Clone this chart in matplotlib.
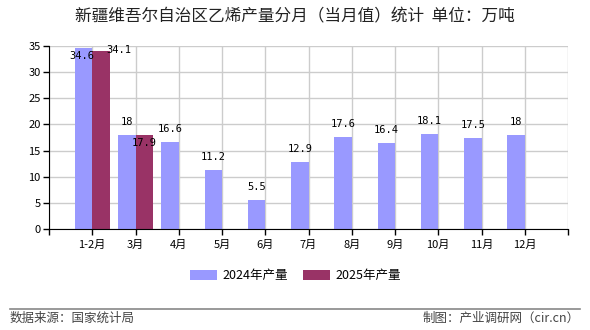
import matplotlib.pyplot as plt
import numpy as np

plt.rcParams['font.family'] = ['Noto Sans CJK SC', 'DejaVu Sans']

# Datos
meses = ['1-2月', '3月', '4月', '5月', '6月', '7月', '8月', '9月', '10月', '11月', '12月']
prod_2024 = [34.6, 18, 16.6, 11.2, 5.5, 12.9, 17.6, 16.4, 18.1, 17.5, 18]
prod_2025 = [34.1, 17.9]

color_2024 = '#9999FF'
color_2025 = '#993366'

fig = plt.figure(figsize=(5.9, 3.3), dpi=100)
ax = fig.add_axes([49 / 590, 101 / 330, 519 / 590, 183 / 330])

x = np.arange(1, len(meses) + 1)
w = 0.4
b24 = ax.bar(x - w / 2, prod_2024, w, color=color_2024, label='2024年产量', zorder=2)
x25 = x[:len(prod_2025)]
b25 = ax.bar(x25 + w / 2, prod_2025, w, color=color_2025, label='2025年产量', zorder=2)

# Etiquetas de valores (desplazamientos en pixeles)
off24 = {0: (-2, -8)}
off25 = {0: (18, 1), 1: (0, -8)}
for i, v in enumerate(prod_2024):
    dx, dy = off24.get(i, (0, 13))
    ax.annotate(f'{v:g}', (x[i] - w / 2, v), xytext=(dx, dy), textcoords='offset pixels',
                ha='center', va='center', fontsize=7.5, family='DejaVu Sans Mono', zorder=3)
for i, v in enumerate(prod_2025):
    dx, dy = off25.get(i, (0, 13))
    ax.annotate(f'{v:g}', (x25[i] + w / 2, v), xytext=(dx, dy), textcoords='offset pixels',
                ha='center', va='center', fontsize=7.5, family='DejaVu Sans Mono', zorder=3)

ax.set_xlim(0, 12)
ax.set_ylim(0, 35)
ax.set_yticks(range(0, 36, 5))
ax.set_xticks(range(0, 13))
ax.set_xticklabels([''] + meses + [''])
ax.tick_params(axis='both', labelsize=8, length=4, width=1, color='black', pad=2)
ax.tick_params(axis='x', pad=4)

ax.grid(True, color='#CCCCCC', linewidth=1, zorder=0)
for s in ['top', 'right']:
    ax.spines[s].set_visible(False)
ax.spines['left'].set_color('black')
ax.spines['bottom'].set_color('black')
ax.spines['left'].set_zorder(4)
ax.spines['bottom'].set_zorder(4)

fig.text(0.5, 1 - 17 / 330, '新疆维吾尔自治区乙烯产量分月（当月值）统计  单位：万吨',
         ha='center', va='center', fontsize=12, color='#222222')

fig.legend(handles=[b24, b25], loc='center', bbox_to_anchor=(0.5, 1 - 276 / 330),
           ncol=2, frameon=False, fontsize=9, handlelength=2.2, handleheight=0.9,
           columnspacing=1.2, handletextpad=0.4)

fig.add_artist(plt.Line2D([10 / 590, 580 / 590], [1 - 309 / 330] * 2,
                          color='#888888', linewidth=1.2))
fig.text(10 / 590, 1 - 318 / 330, '数据来源：国家统计局', ha='left', va='center',
         fontsize=9, color='#444444')
fig.text(580 / 590, 1 - 318 / 330, '制图：产业调研网（cir.cn）', ha='right', va='center',
         fontsize=9, color='#444444')

fig.savefig('out.png', dpi=100)
